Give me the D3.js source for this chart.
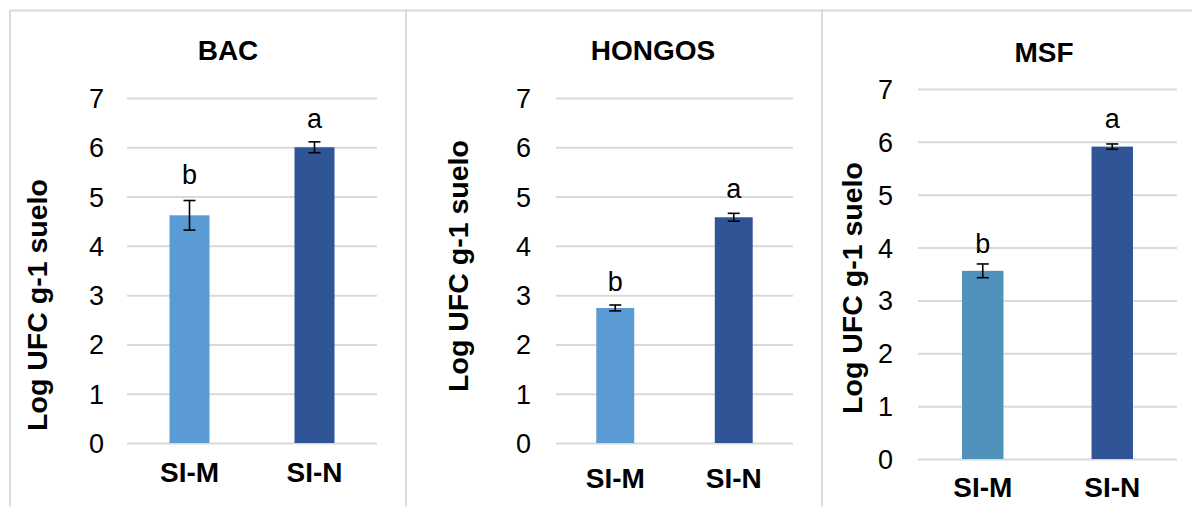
<!DOCTYPE html>
<html>
<head>
<meta charset="utf-8">
<script src="https://cdn.jsdelivr.net/npm/d3@7"></script>
<style>
  html, body { margin: 0; padding: 0; background: #ffffff; }
  svg { display: block; font-family: "Liberation Sans", Arial, sans-serif; }
</style>
</head>
<body>
<svg id="chart" width="1192" height="507"></svg>
<script>
// Microbial counts (log UFC per g of soil) in two soils, three groups
const categories = ["SI-M", "SI-N"];
const panelTitles = ["BAC", "HONGOS", "MSF"];
const yTickValues = [0, 1, 2, 3, 4, 5, 6, 7];
const yAxisTitle = "Log UFC g-1 suelo";

const bacMeans = [4.62, 6.00];
const bacErrors = [0.30, 0.11];
const bacLetters = ["b", "a"];

const hongosMeans = [2.74, 4.58];
const hongosErrors = [0.06, 0.08];
const hongosLetters = ["b", "a"];

const msfMeans = [3.56, 5.91];
const msfErrors = [0.13, 0.05];
const msfLetters = ["b", "a"];

// Layout of each small chart on the page
const layouts = [
  { x0: 127, x1: 377, yBottom: 443, yTop: 98, tickRight: 104, titleX: 228, titleY: 50,
    yTitleX: 37, yTitleY: 305, xLabelY: 472, letterGap: [17, 14],
    colors: ["#5B9BD5", "#2F5597"] },
  { x0: 556, x1: 793, yBottom: 443, yTop: 98, tickRight: 531, titleX: 653, titleY: 50,
    yTitleX: 458, yTitleY: 266, xLabelY: 478, letterGap: [14, 15],
    colors: ["#5B9BD5", "#2F5597"] },
  { x0: 918, x1: 1177, yBottom: 459, yTop: 89, tickRight: 893, titleX: 1044, titleY: 52,
    yTitleX: 852, yTitleY: 288, xLabelY: 487, letterGap: [11, 16],
    colors: ["#4F91BB", "#2F5597"] }
];

const panelData = [
  { means: bacMeans, errors: bacErrors, letters: bacLetters },
  { means: hongosMeans, errors: hongosErrors, letters: hongosLetters },
  { means: msfMeans, errors: msfErrors, letters: msfLetters }
];

const svg = d3.select("#chart");

// Panel frames
const frame = svg.append("g").attr("stroke", "#d9d9d9").attr("stroke-width", 1.8).attr("fill", "none");
frame.append("line").attr("x1", 10).attr("x2", 1192).attr("y1", 10.5).attr("y2", 10.5);
[10, 406, 822].forEach(x => {
  frame.append("line").attr("x1", x).attr("x2", x).attr("y1", 10).attr("y2", 507);
});

panelTitles.forEach((title, i) => {
  const L = layouts[i];
  const D = panelData[i];
  const g = svg.append("g");

  const x = d3.scaleBand().domain(categories).range([L.x0, L.x1])
    .paddingInner(0.68).paddingOuter(0.34);
  const y = d3.scaleLinear().domain([0, 7]).range([L.yBottom, L.yTop]);

  // Horizontal gridlines
  g.append("g")
    .attr("transform", `translate(${L.x0},0)`)
    .call(d3.axisLeft(y).tickValues(yTickValues).tickSize(-(L.x1 - L.x0)).tickFormat(""))
    .call(a => a.select(".domain").remove())
    .call(a => a.selectAll("line").attr("stroke", "#d9d9d9").attr("stroke-width", 2));

  // Y tick labels
  g.append("g")
    .attr("transform", `translate(${L.tickRight},0)`)
    .call(d3.axisLeft(y).tickValues(yTickValues).tickSize(0).tickPadding(0).tickFormat(d3.format("d")))
    .call(a => a.select(".domain").remove())
    .call(a => a.selectAll("text")
      .attr("font-family", "'Liberation Sans', Arial, sans-serif")
      .attr("font-size", 27).attr("fill", "#000").attr("dy", "0.35em"));

  // Bars
  g.selectAll("rect.bar").data(categories).join("rect")
    .attr("class", "bar")
    .attr("x", c => x(c))
    .attr("width", x.bandwidth())
    .attr("y", (c, k) => y(D.means[k]))
    .attr("height", (c, k) => y(0) - y(D.means[k]))
    .attr("fill", (c, k) => L.colors[k]);

  // Error bars
  const eb = g.selectAll("g.err").data(categories).join("g").attr("class", "err")
    .attr("stroke", "#000").attr("stroke-width", 1.6);
  const cx = c => x(c) + x.bandwidth() / 2;
  eb.append("line")
    .attr("x1", cx).attr("x2", cx)
    .attr("y1", (c, k) => y(D.means[k] + D.errors[k]))
    .attr("y2", (c, k) => y(D.means[k] - D.errors[k]));
  eb.append("line")
    .attr("x1", c => cx(c) - 6).attr("x2", c => cx(c) + 6)
    .attr("y1", (c, k) => y(D.means[k] + D.errors[k]))
    .attr("y2", (c, k) => y(D.means[k] + D.errors[k]));
  eb.append("line")
    .attr("x1", c => cx(c) - 6).attr("x2", c => cx(c) + 6)
    .attr("y1", (c, k) => y(D.means[k] - D.errors[k]))
    .attr("y2", (c, k) => y(D.means[k] - D.errors[k]));

  // Significance letters
  g.selectAll("text.letter").data(categories).join("text")
    .attr("class", "letter")
    .attr("x", cx)
    .attr("y", (c, k) => y(D.means[k] + D.errors[k]) - L.letterGap[k])
    .attr("text-anchor", "middle")
    .attr("font-size", 27)
    .attr("fill", "#000")
    .text((c, k) => D.letters[k]);

  // Category labels
  g.append("g")
    .attr("transform", `translate(0,${L.xLabelY})`)
    .call(d3.axisBottom(x).tickSize(0).tickPadding(0))
    .call(a => a.select(".domain").remove())
    .call(a => a.selectAll("text")
      .attr("font-family", "'Liberation Sans', Arial, sans-serif")
      .attr("font-size", 28).attr("font-weight", "bold").attr("fill", "#000")
      .attr("y", 0).attr("dy", "0.35em"));

  // Panel title
  g.append("text")
    .attr("x", L.titleX).attr("y", L.titleY).attr("dy", "0.35em")
    .attr("text-anchor", "middle")
    .attr("font-size", 28).attr("font-weight", "bold").attr("fill", "#000")
    .text(title);

  // Y axis title
  g.append("text")
    .attr("transform", `translate(${L.yTitleX},${L.yTitleY}) rotate(-90)`)
    .attr("dy", "0.35em")
    .attr("text-anchor", "middle")
    .attr("font-size", 28.5).attr("font-weight", "bold").attr("fill", "#000")
    .text(yAxisTitle);
});
</script>
</body>
</html>
